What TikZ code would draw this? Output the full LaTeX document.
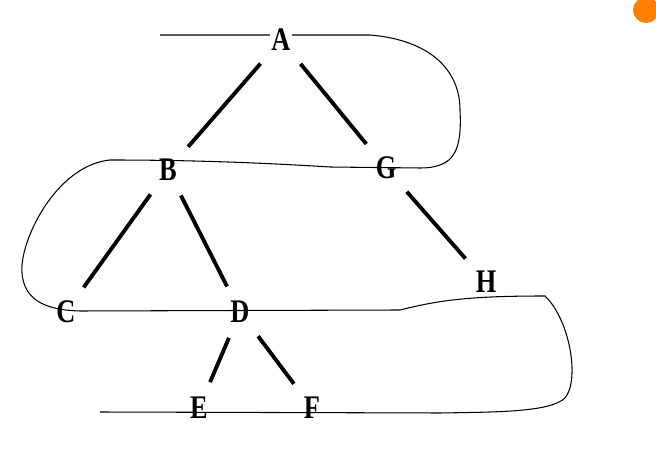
\documentclass[tikz,border=0pt]{standalone}
\usepackage{fontspec}
\setmainfont{Liberation Serif}
\newcommand{\tallt}[1]{\scalebox{1}[1.25]{#1}}
\begin{document}
\begin{tikzpicture}[x=0.02cm,y=-0.02cm,
  lbl/.style={inner sep=1pt,font=\fontsize{15}{15}\selectfont\bfseries},
  edge/.style={line width=2.2pt,shorten >=8pt,shorten <=8pt}]
\useasboundingbox (0,0) rectangle (656,469);
\fill[white] (0,0) rectangle (656,469);
\fill[orange] (646,10) circle[radius=13];
% thin curve
\draw[line width=0.6pt] (160,35) -- (370,35) .. controls (430,40) and (460,70) .. (460,110)
  .. controls (462,150) and (455,168) .. (420,168) -- (330,167) .. controls (250,162) and (180,160) .. (110,160)
  .. controls (60,165) and (25,230) .. (22,265) .. controls (20,300) and (45,310) .. (80,311)
  -- (400,310) .. controls (440,300) and (470,296) .. (545,296)
  .. controls (570,320) and (580,380) .. (565,398) .. controls (550,412) and (500,412) .. (440,413)
  -- (100,412);
\node[lbl,fill=white] (A) at (281,40) {\tallt{A}};
\node[lbl] (B) at (168,170) {\tallt{B}};
\node[lbl] (G) at (386,168) {\tallt{G}};
\node[lbl] (C) at (66,312) {\tallt{C}};
\node[lbl] (D) at (240,312) {\tallt{D}};
\node[lbl] (H) at (486,282) {\tallt{H}};
\node[lbl] (E) at (199,408) {\tallt{E}};
\node[lbl] (F) at (312,408) {\tallt{F}};
\draw[edge] (A) -- (B);
\draw[edge] (A) -- (G);
\draw[edge] (B) -- (C);
\draw[edge] (B) -- (D);
\draw[edge] (G) -- (H);
\draw[edge] (D) -- (E);
\draw[edge] (D) -- (F);
\end{tikzpicture}
\end{document}
